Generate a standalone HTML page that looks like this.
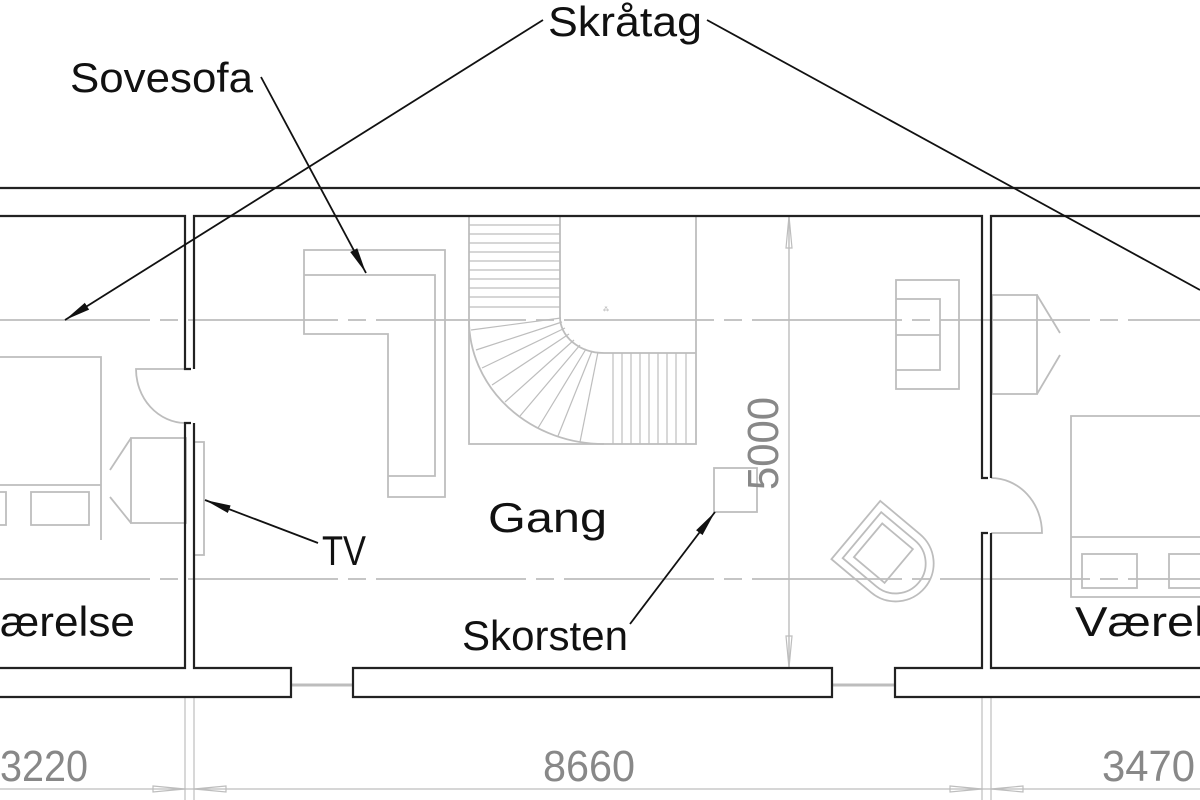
<!DOCTYPE html>
<html><head><meta charset="utf-8"><style>
html,body{margin:0;padding:0;background:#fff;}
svg{display:block;}
text{font-family:"Liberation Sans",sans-serif;}
</style></head><body>
<svg width="1200" height="800" viewBox="0 0 1200 800" xmlns="http://www.w3.org/2000/svg">
<defs>
<marker id="ah" viewBox="0 0 26 10" refX="26" refY="5" markerWidth="26" markerHeight="10" markerUnits="userSpaceOnUse" orient="auto">
<path d="M0,1 L26,5 L0,9 Z" fill="#111"/>
</marker>
</defs>
<g fill="none" stroke="#bdbdbd" stroke-width="1.8">
<line x1="0" y1="320" x2="1200" y2="320" stroke-dasharray="150,10,18,10"/>
<line x1="0" y1="579" x2="1200" y2="579" stroke-dasharray="150,10,18,10"/>
<path d="M0,357 H101 V540"/>
<line x1="0" y1="485" x2="101" y2="485"/>
<rect x="31" y="492" width="58" height="33"/>
<rect x="-5" y="492" width="11" height="33"/>
<rect x="131" y="438" width="55" height="85"/>
<path d="M131,438 L110,470 M131,523 L110,497"/>
<rect x="194" y="442" width="10" height="113"/>
<path d="M185,369 H136 A50,54 0 0 0 185,423"/>
<path d="M304,250 H445 V497 H388 V334 H304 Z"/>
<path d="M304,275 H435 V476 H388"/>
<rect x="469" y="216" width="227" height="228"/>
<path d="M560,216 V317 A44,36 0 0 0 604,353 H696"/>
<path d="M469,320 A135,124 0 0 0 604,444"/>
<g stroke-width="1.2">
<line x1="469" y1="225" x2="560" y2="225"/><line x1="469" y1="234" x2="560" y2="234"/><line x1="469" y1="243" x2="560" y2="243"/><line x1="469" y1="252" x2="560" y2="252"/><line x1="469" y1="261" x2="560" y2="261"/><line x1="469" y1="270" x2="560" y2="270"/><line x1="469" y1="279" x2="560" y2="279"/><line x1="469" y1="288" x2="560" y2="288"/><line x1="469" y1="297" x2="560" y2="297"/><line x1="469" y1="307" x2="560" y2="307"/>
<line x1="613" y1="353" x2="613" y2="444"/><line x1="622" y1="353" x2="622" y2="444"/><line x1="631" y1="353" x2="631" y2="444"/><line x1="640" y1="353" x2="640" y2="444"/><line x1="649" y1="353" x2="649" y2="444"/><line x1="658" y1="353" x2="658" y2="444"/><line x1="667" y1="353" x2="667" y2="444"/><line x1="676" y1="353" x2="676" y2="444"/><line x1="686" y1="353" x2="686" y2="444"/>
<line x1="561" y1="318" x2="471" y2="330"/>
<line x1="562" y1="322" x2="476" y2="350"/>
<line x1="565" y1="328" x2="482" y2="368"/>
<line x1="569" y1="334" x2="492" y2="385"/>
<line x1="574" y1="340" x2="505" y2="402"/>
<line x1="580" y1="345" x2="520" y2="416"/>
<line x1="586" y1="349" x2="538" y2="428"/>
<line x1="592" y1="351" x2="558" y2="436"/>
<line x1="598" y1="352" x2="580" y2="442"/>
</g>
<rect x="714" y="468" width="43" height="44"/>
<rect x="896" y="280" width="63" height="109"/>
<path d="M896,299 H940 V370 H896 M896,335 H940"/>
<g transform="translate(888,557) rotate(40)">
<path d="M-42,-38 H10 A38,38 0 0 1 10,38 H-42 Z"/>
<path d="M-34,-30 H10 A30,30 0 0 1 10,30 H-34 Z"/>
<rect x="-26" y="-22" width="40" height="44"/>
</g>
<path d="M991,533 H1042 A51,55 0 0 0 991,478"/>
<rect x="992" y="295" width="45" height="99"/>
<path d="M1037,295 L1060,333 M1037,394 L1060,355"/>
<path d="M1205,416 H1071 V597 H1205"/>
<line x1="1071" y1="537" x2="1205" y2="537"/>
<rect x="1082" y="554" width="55" height="34"/>
<rect x="1169" y="554" width="40" height="34"/>
<line x1="291" y1="685" x2="353" y2="685" stroke-width="3"/>
<line x1="832" y1="685" x2="895" y2="685" stroke-width="3"/>
<line x1="185" y1="697" x2="185" y2="800" stroke-width="1.2"/>
<line x1="194" y1="697" x2="194" y2="800" stroke-width="1.2"/>
<line x1="982" y1="697" x2="982" y2="800" stroke-width="1.2"/>
<line x1="991" y1="697" x2="991" y2="800" stroke-width="1.2"/>
<line x1="0" y1="789" x2="1200" y2="789" stroke-width="1.2"/>
<path d="M153,786 L185,789 L153,792 Z M226,786 L194,789 L226,792 Z M950,786 L982,789 L950,792 Z M1023,786 L991,789 L1023,792 Z" stroke-width="1.2"/>
<line x1="789" y1="216" x2="789" y2="668" stroke-width="1.4"/>
<path d="M786,248 L789,216 L792,248 Z M786,636 L789,668 L792,636 Z" stroke-width="1.2"/>
</g>
<text x="606" y="311" font-size="6" fill="#aaa" text-anchor="middle">⁂</text>
<g fill="none" stroke="#222" stroke-width="2.2">
<line x1="0" y1="188" x2="1200" y2="188"/>
<path d="M0,216 H185 V369 H191"/>
<path d="M191,423 H185 V668 H0"/>
<path d="M194,369 V216 H982 V478 H988"/>
<path d="M194,423 V668 H291 V697 H0"/>
<path d="M353,697 V668 H832 V697 Z"/>
<path d="M988,533 H982 V668 H895 V697 H1200"/>
<path d="M991,478 V216 H1200"/>
<path d="M991,533 V668 H1200"/>
</g>
<g stroke="#111" stroke-width="1.8" fill="none">
<line x1="543" y1="20" x2="65" y2="320" marker-end="url(#ah)"/>
<line x1="707" y1="20" x2="1200" y2="290"/>
<line x1="261" y1="77" x2="366" y2="273" marker-end="url(#ah)"/>
<line x1="318" y1="543" x2="205" y2="500" marker-end="url(#ah)"/>
<line x1="630" y1="624" x2="715" y2="512" marker-end="url(#ah)"/>
</g>
<g fill="#111" font-size="42">
<text x="548" y="36" textLength="154" lengthAdjust="spacingAndGlyphs">Skråtag</text>
<text x="70" y="92" textLength="183" lengthAdjust="spacingAndGlyphs">Sovesofa</text>
<text x="488" y="532" textLength="119" lengthAdjust="spacingAndGlyphs">Gang</text>
<text x="322" y="565" textLength="44" lengthAdjust="spacingAndGlyphs">TV</text>
<text x="462" y="650" textLength="166" lengthAdjust="spacingAndGlyphs">Skorsten</text>
<text x="0" y="636" textLength="135" lengthAdjust="spacingAndGlyphs">ærelse</text>
<text x="1075" y="636" textLength="130" lengthAdjust="spacingAndGlyphs">Værel</text>
</g>
<g fill="#888" font-size="44">
<text x="0" y="781" textLength="88" lengthAdjust="spacingAndGlyphs">3220</text>
<text x="543" y="781" textLength="92" lengthAdjust="spacingAndGlyphs">8660</text>
<text x="1102" y="781" textLength="93" lengthAdjust="spacingAndGlyphs">3470</text>
<text transform="translate(778,490) rotate(-90)" x="0" y="0" textLength="93" lengthAdjust="spacingAndGlyphs">5000</text>
</g>
</svg>
</body></html>
